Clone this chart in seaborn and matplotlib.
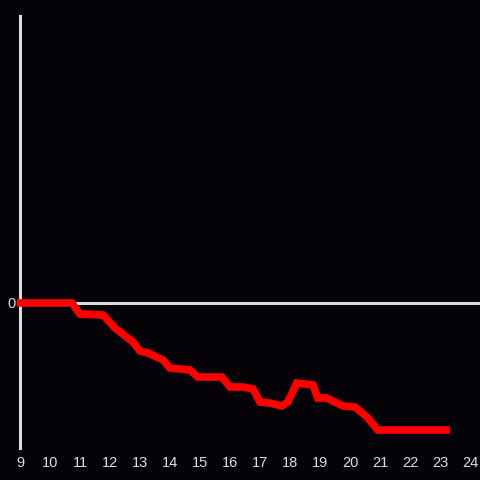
import numpy as np
import pandas as pd
import matplotlib
matplotlib.use("Agg")
import matplotlib.pyplot as plt
import seaborn as sns

# values (x = hour, y = change)
hours = [8.9, 10.73, 11.0, 11.77, 12.17, 12.77, 13.0, 13.27, 13.77, 14.0, 14.67,
         14.93, 15.73, 16.0, 16.43, 16.77, 17.0, 17.33, 17.73, 17.93, 18.23,
         18.77, 18.93, 19.23, 19.77, 20.17, 20.57, 20.93, 23.33]
change = [0.0, 0.0, -0.11, -0.12, -0.25, -0.39, -0.48, -0.50, -0.57, -0.65, -0.67,
          -0.74, -0.74, -0.84, -0.84, -0.86, -0.99, -1.00, -1.03, -0.99, -0.80,
          -0.82, -0.95, -0.95, -1.03, -1.04, -1.14, -1.27, -1.27]
x_ticks = list(range(9, 25))

bg = "#050307"
fg = "#dddddd"

sns.set_style("dark", {"axes.facecolor": bg, "figure.facecolor": bg})
plt.rcParams['font.family'] = ['Liberation Sans', 'DejaVu Sans']

df = pd.DataFrame({"hour": hours, "change": change})

fig = plt.figure(figsize=(4.8, 4.8), dpi=100)
ax = fig.add_axes([20/480, 32/480, 460/480, 432/480])
ax.set_facecolor(bg)

ax.axhline(0, color=fg, lw=2.2, zorder=1)
sns.lineplot(data=df, x="hour", y="change", color="#ff0000", lw=5.5, ax=ax,
             zorder=5, solid_joinstyle="miter", solid_capstyle="butt",
             clip_on=False)

ax.set_xlim(9, 24 + 10/30)
ax.set_ylim(-1.45, 2.87)
ax.set_xticks(x_ticks)
ax.set_xticklabels([str(t) for t in x_ticks])
ax.set_yticks([0])
ax.set_yticklabels(["0"])
ax.tick_params(colors=fg, labelsize=10.5, length=0)
ax.tick_params(axis="x", pad=6)
ax.tick_params(axis="y", pad=3)
for lbl in ax.get_yticklabels():
    lbl.set_va("center_baseline")
ax.set_xlabel("")
ax.set_ylabel("")
ax.grid(False)

for s in ["top", "right", "bottom"]:
    ax.spines[s].set_visible(False)
ax.spines["left"].set_color(fg)
ax.spines["left"].set_linewidth(2.2)
ax.spines["left"].set_zorder(4)

fig.savefig("out.png", dpi=100, facecolor=bg)
